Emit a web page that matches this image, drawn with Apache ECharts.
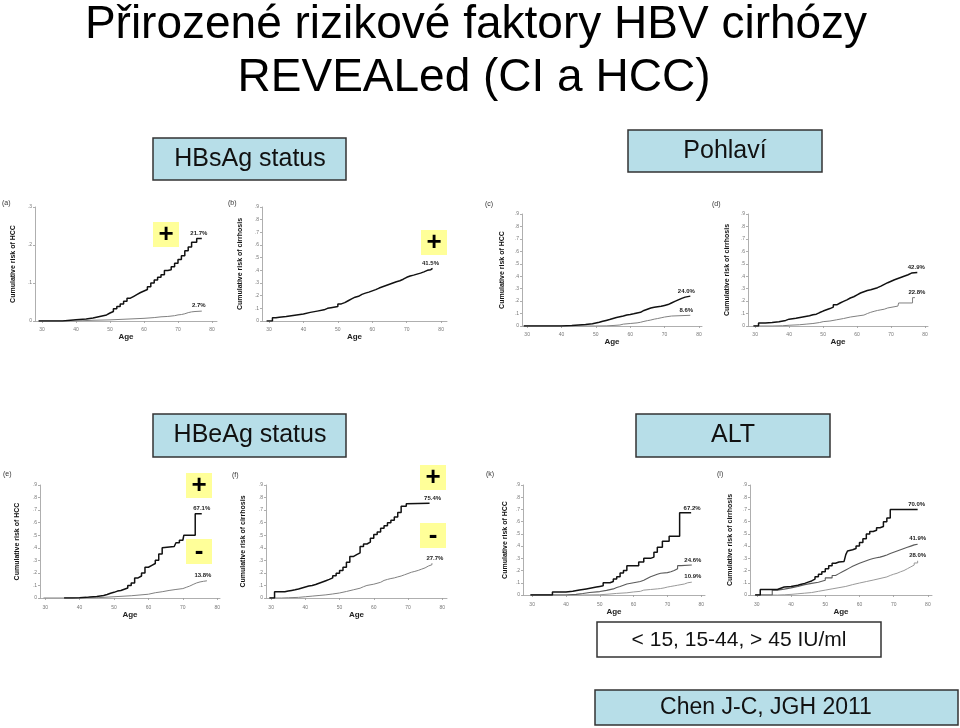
<!DOCTYPE html>
<html><head><meta charset="utf-8">
<script src="https://cdn.jsdelivr.net/npm/echarts@6.0.0/dist/echarts.min.js"></script>
<style>html,body{margin:0;padding:0;background:#fff}#c{width:960px;height:728px}</style>
</head><body><div id="c"></div>
<script>
// ---------- DATA ----------
const xTickValues = [30, 40, 50, 60, 70, 80];
const xTickLabels = ['30', '40', '50', '60', '70', '80'];
const yTickLabels = ['0', '.1', '.2', '.3', '.4', '.5', '.6', '.7', '.8', '.9'];
const panelLetters = ['(a)', '(b)', '(c)', '(d)', '(e)', '(f)', '(k)', '(l)'];
const yAxisNames = ['Cumulative risk of HCC', 'Cumulative risk of cirrhosis', 'Cumulative risk of HCC', 'Cumulative risk of cirrhosis',
  'Cumulative risk of HCC', 'Cumulative risk of cirrhosis', 'Cumulative risk of HCC', 'Cumulative risk of cirrhosis'];
const yMaxValues = [0.3, 0.9, 0.9, 0.9, 0.9, 0.9, 0.9, 0.9];

// (a) HBsAg -> HCC
const aPos = [[29,0],[36,0.003],[40,0.005],[43,0.008],[45,0.012],[47,0.016],[49,0.021],[50,0.025],[51,0.032],[52,0.038],[53,0.045],[54,0.052],[55,0.06],[56,0.065],[57,0.07],[58,0.075],[59,0.079],[60,0.083],[61,0.09],[62,0.1],[63,0.108],[64,0.115],[65,0.122],[66,0.133],[67,0.135],[68,0.143],[69,0.152],[70,0.162],[71,0.172],[72,0.185],[73,0.195],[74,0.207],[75.5,0.217],[77,0.217]];
const aNeg = [[29,0],[40,0.002],[45,0.003],[50,0.005],[55,0.007],[60,0.009],[63,0.011],[65,0.012],[67,0.014],[69,0.016],[70,0.017],[71,0.019],[72,0.022],[73,0.024],[74,0.025],[75,0.026],[77,0.027]];
// (b) HBsAg -> cirrhosis
const bPos = [[29.3,0],[31,0.025],[32,0.03],[33,0.035],[35,0.04],[36,0.048],[38,0.055],[40,0.068],[42,0.078],[44,0.088],[46,0.1],[47,0.105],[48,0.115],[50,0.135],[51,0.145],[52,0.16],[53,0.175],[54,0.188],[55,0.195],[56,0.21],[57,0.22],[58,0.228],[59,0.238],[60,0.248],[61,0.26],[62,0.27],[63,0.28],[64,0.29],[65,0.3],[66,0.31],[67,0.318],[68,0.33],[69,0.345],[70,0.355],[71,0.362],[72,0.37],[73,0.378],[74,0.388],[75,0.4],[76,0.405],[77,0.415],[77.5,0.415]];
// (c) sex -> HCC
const cMale = [[29,0],[35,0.001],[40,0.004],[43,0.008],[45,0.012],[47,0.018],[49,0.024],[50,0.03],[51,0.038],[52,0.045],[53,0.052],[54,0.06],[55,0.068],[56,0.074],[57,0.08],[58,0.088],[59,0.092],[60,0.098],[61,0.105],[62,0.11],[63,0.125],[64,0.135],[65,0.145],[66,0.15],[67,0.155],[68,0.158],[69,0.165],[70,0.172],[71,0.185],[72,0.198],[73,0.21],[74,0.222],[75,0.232],[76,0.24],[77.5,0.24]];
const cFemale = [[29,0],[50,0.001],[53,0.004],[55,0.008],[57,0.015],[58,0.02],[60,0.025],[62,0.03],[63,0.037],[64,0.043],[65,0.048],[66,0.055],[67,0.06],[68,0.066],[69,0.072],[70,0.076],[71,0.08],[72,0.086],[77.5,0.086]];
// (d) sex -> cirrhosis
const dMale = [[29.5,0],[31,0.025],[33,0.028],[35,0.035],[37,0.045],[39,0.055],[40,0.062],[42,0.072],[44,0.082],[46,0.09],[47,0.095],[48,0.108],[49,0.12],[50,0.13],[51,0.14],[52,0.152],[53,0.17],[54,0.185],[55,0.198],[56,0.21],[57,0.225],[58,0.235],[59,0.25],[60,0.265],[61,0.275],[62,0.285],[63,0.292],[64,0.3],[65,0.308],[66,0.32],[67,0.335],[68,0.348],[69,0.36],[70,0.372],[71,0.382],[72,0.392],[73,0.402],[74,0.412],[75,0.425],[76,0.429],[77.7,0.429]];
const dFemale = [[29.5,0],[35,0.002],[38,0.006],[40,0.01],[43,0.015],[45,0.02],[47,0.028],[49,0.035],[50,0.04],[52,0.05],[54,0.06],[56,0.072],[58,0.08],[60,0.088],[62,0.1],[63,0.11],[64,0.118],[65,0.125],[66,0.13],[67,0.135],[68,0.145],[69,0.16],[72,0.165],[72.2,0.185],[76.3,0.228],[77,0.228]];
// (e) HBeAg -> HCC
const ePos = [[35.5,0],[38,0.002],[40,0.005],[42,0.008],[43,0.012],[45,0.016],[46,0.02],[47,0.028],[48,0.038],[49,0.045],[50,0.055],[51,0.06],[52,0.07],[53,0.08],[54,0.1],[55,0.12],[56,0.16],[57,0.175],[58,0.2],[59,0.245],[60,0.26],[61,0.275],[62,0.3],[63,0.35],[64,0.4],[64.5,0.41],[67.5,0.41],[68,0.44],[69,0.46],[70,0.47],[70.3,0.5],[73.6,0.671],[75.5,0.671]];
const eNeg = [[29.5,0],[40,0.002],[45,0.01],[50,0.018],[55,0.03],[60,0.042],[62,0.05],[64,0.06],[66,0.068],[68,0.075],[70,0.085],[71,0.095],[72,0.108],[73,0.12],[74,0.128],[75,0.133],[76,0.137],[77,0.138]];
// (f) HBeAg -> cirrhosis
const fPos = [[29.5,0],[31,0.05],[33,0.05],[34,0.055],[35,0.06],[36,0.065],[37,0.072],[38,0.08],[39,0.088],[40,0.095],[41,0.1],[42,0.108],[43,0.118],[44,0.128],[45,0.138],[46,0.148],[47,0.16],[48,0.178],[49,0.198],[50,0.22],[51,0.245],[52,0.285],[53,0.33],[54,0.345],[55,0.36],[56,0.41],[57,0.43],[58,0.445],[59,0.475],[60,0.505],[61,0.525],[62,0.555],[63,0.575],[64,0.6],[65,0.62],[66,0.645],[67,0.68],[68,0.73],[69.5,0.75],[70,0.754],[76.3,0.754]];
const fNeg = [[29.5,0],[33,0.002],[35,0.005],[38,0.01],[40,0.015],[42,0.02],[44,0.025],[46,0.032],[48,0.04],[50,0.052],[52,0.065],[54,0.078],[56,0.09],[57,0.1],[58,0.11],[60,0.125],[62,0.14],[63,0.148],[64,0.155],[65,0.16],[66,0.168],[67,0.175],[68,0.185],[69,0.195],[70,0.205],[71,0.212],[72,0.22],[73,0.23],[74,0.24],[75,0.255],[76,0.265],[77,0.277]];
// (k) ALT -> HCC
const kHigh = [[29.5,0],[36,0.025],[40,0.03],[42,0.04],[44,0.05],[46,0.065],[49,0.07],[50,0.075],[51,0.1],[53,0.11],[54,0.13],[55,0.15],[56,0.18],[57,0.2],[58,0.24],[61.5,0.27],[63,0.3],[65,0.31],[66,0.35],[67,0.39],[68.5,0.44],[70.5,0.48],[73.6,0.672],[77,0.672]];
const kMid = [[29.5,0],[40,0.005],[43,0.012],[45,0.02],[47,0.028],[50,0.038],[52,0.05],[54,0.062],[55,0.07],[56,0.08],[57,0.09],[58,0.1],[60,0.11],[62,0.12],[63,0.135],[64,0.15],[65,0.16],[66,0.17],[67,0.178],[68,0.183],[70,0.19],[71,0.2],[72,0.215],[73,0.24],[74,0.246],[77.2,0.246]];
const kLow = [[29.5,0],[45,0.002],[50,0.008],[53,0.013],[55,0.018],[58,0.025],[60,0.03],[62,0.04],[63,0.045],[65,0.05],[67,0.053],[68,0.058],[69,0.065],[70,0.07],[71,0.075],[72,0.08],[73,0.085],[74,0.09],[75,0.1],[76,0.105],[77.2,0.109]];
// (l) ALT -> cirrhosis
const lHigh = [[29.5,0],[31,0.045],[35,0.045],[36,0.055],[37,0.065],[38,0.07],[40,0.08],[42,0.088],[43,0.095],[44,0.105],[45,0.115],[46,0.13],[47,0.15],[48,0.17],[49,0.19],[50,0.215],[51,0.24],[52,0.26],[53,0.27],[54,0.275],[55.5,0.275],[56,0.33],[56.5,0.36],[57,0.37],[58,0.38],[59,0.4],[60,0.43],[61,0.46],[62,0.5],[63,0.52],[64,0.53],[65,0.55],[66,0.56],[67,0.6],[68,0.63],[69,0.7],[77,0.7]];
const lMid = [[29.5,0],[34.5,0.04],[36,0.048],[38,0.058],[40,0.07],[42,0.085],[44,0.095],[46,0.105],[48,0.12],[50,0.14],[52,0.16],[53,0.175],[54,0.19],[55,0.205],[56,0.22],[57,0.235],[58,0.248],[59,0.26],[60,0.27],[61,0.28],[62,0.29],[63,0.298],[64,0.305],[65,0.31],[66,0.318],[67,0.328],[68,0.34],[69,0.35],[70,0.36],[71,0.37],[72,0.38],[73,0.39],[74,0.4],[75,0.41],[76,0.415],[77,0.419]];
const lLow = [[29.5,0],[36,0.002],[38,0.005],[40,0.01],[42,0.015],[44,0.02],[46,0.03],[48,0.04],[50,0.05],[52,0.06],[54,0.07],[56,0.085],[58,0.098],[60,0.11],[62,0.122],[64,0.135],[66,0.148],[68,0.16],[69,0.17],[70,0.178],[71,0.19],[72,0.2],[73,0.215],[74,0.23],[75,0.245],[76,0.262],[77,0.28]];

const panelSeries = [[aNeg, aPos], [bPos], [cFemale, cMale], [dFemale, dMale], [eNeg, ePos], [fNeg, fPos], [kLow, kMid, kHigh], [lLow, lMid, lHigh]];
const endLabels = [['2.7%', '21.7%'], ['41.5%'], ['8.6%', '24.0%'], ['22.8%', '42.9%'], ['13.8%', '67.1%'], ['27.7%', '75.4%'], ['10.9%', '24.6%', '67.2%'], ['28.0%', '41.9%', '70.0%']];

// ---------- LAYOUT / STYLE ----------
const FONT = '"Liberation Sans", Arial, sans-serif';
const layout = [
  {left: 35,  top: 207, w: 182, h: 114, xmin: 27.94, xmax: 81.47, off: 4, yGap: 18.5, ageGap: 8, letter: [2, 200]},
  {left: 262, top: 207, w: 185, h: 114, xmin: 27.97, xmax: 81.7,  off: 4, yGap: 18.5, ageGap: 8, letter: [228, 200]},
  {left: 522, top: 214, w: 180, h: 112, xmin: 28.5,  xmax: 80.9,  off: 4, yGap: 16.5, ageGap: 7, letter: [485, 201]},
  {left: 748, top: 214, w: 180, h: 112, xmin: 27.9,  xmax: 80.85, off: 4, yGap: 17.5, ageGap: 7, letter: [712, 201]},
  {left: 40,  top: 485, w: 180, h: 113, xmin: 28.5,  xmax: 80.8,  off: 5, yGap: 19.5, ageGap: 6, letter: [3, 471]},
  {left: 266, top: 485, w: 181, h: 113, xmin: 28.5,  xmax: 81.4,  off: 5, yGap: 19.5, ageGap: 6, letter: [232, 472]},
  {left: 523, top: 485, w: 182, h: 110, xmin: 27.3,  xmax: 81.1,  off: 5, yGap: 14.5, ageGap: 4, letter: [486, 471]},
  {left: 750, top: 485, w: 182, h: 110, xmin: 28,    xmax: 81.2,  off: 5, yGap: 16.5, ageGap: 4, letter: [717, 471]}
];
const twoColors = [{c: '#808080', w: 1}, {c: '#111', w: 1.5}];
const threeColors = [{c: '#999', w: 1}, {c: '#5a5a5a', w: 1.1}, {c: '#111', w: 1.5}];
const labelDx = [[-3, -3], [-2], [-4, -4], [2, -1], [-4, 0], [3, 3], [1, 1, 1], [0, 0, -1]];

const grids = [], xAxes = [], yAxes = [], series = [];
layout.forEach((p, i) => {
  grids.push({left: p.left, top: p.top, width: p.w, height: p.h, containLabel: false});
  xAxes.push({
    gridIndex: i, type: 'value', min: p.xmin, max: p.xmax, offset: p.off,
    axisLine: {show: true, lineStyle: {color: '#9a9a9a', width: 0.8}},
    axisTick: {show: true, customValues: xTickValues, length: 2, lineStyle: {color: '#9a9a9a', width: 0.8}},
    axisLabel: {customValues: xTickValues, formatter: v => xTickLabels[xTickValues.indexOf(v)], fontSize: 5, color: '#777', margin: 2, fontFamily: FONT},
    splitLine: {show: false},
    name: 'Age', nameLocation: 'middle', nameGap: p.ageGap,
    nameTextStyle: {fontSize: 8, fontWeight: 'bold', color: '#222', fontFamily: FONT}
  });
  yAxes.push({
    gridIndex: i, type: 'value', min: 0, max: yMaxValues[i], interval: 0.1,
    axisLine: {show: true, lineStyle: {color: '#9a9a9a', width: 0.8}},
    axisTick: {show: true, length: 2, lineStyle: {color: '#9a9a9a', width: 0.8}},
    axisLabel: {formatter: v => yTickLabels[Math.round(v * 10)], fontSize: 5, color: '#777', margin: 3, fontFamily: FONT},
    splitLine: {show: false},
    name: yAxisNames[i], nameLocation: 'middle', nameRotate: 90, nameGap: p.yGap,
    nameTextStyle: {fontSize: 7, fontWeight: 'bold', color: '#111', fontFamily: FONT}
  });
  const list = panelSeries[i];
  const pal = list.length === 3 ? threeColors : (list.length === 1 ? [twoColors[1]] : twoColors);
  list.forEach((d, j) => {
    const last = d[d.length - 1];
    series.push({
      type: 'line', xAxisIndex: i, yAxisIndex: i, data: d, step: 'end',
      symbol: 'none', showSymbol: false, animation: false, silent: true,
      lineStyle: {color: pal[j].c, width: pal[j].w},
      markPoint: {
        symbol: 'circle', symbolSize: 0, animation: false, silent: true,
        data: [{coord: last, value: endLabels[i][j]}],
        label: {show: true, position: 'top', distance: 2, offset: [labelDx[i][j], 0],
          formatter: endLabels[i][j], fontSize: 6, fontWeight: 'bold', color: '#222', fontFamily: FONT}
      }
    });
  });
});

function box(x, y, w, h, fill, txt, size, tx, ty) {
  return {type: 'group', children: [
    {type: 'rect', shape: {x: x, y: y, width: w, height: h}, style: {fill: fill, stroke: '#333', lineWidth: 1.5}},
    {type: 'text', x: tx, y: ty, style: {text: txt, fontSize: size, fontFamily: FONT, fill: '#111', align: 'center', verticalAlign: 'middle'}}
  ]};
}
function sign(x, y, ch) {
  return {type: 'group', children: [
    {type: 'rect', shape: {x: x, y: y, width: 26, height: 25}, style: {fill: '#ffff99'}},
    {type: 'text', x: x + 13, y: y + 12.5, style: {text: ch, fontSize: 26, fontWeight: 'bold', fontFamily: FONT, fill: '#000', align: 'center', verticalAlign: 'middle'}}
  ]};
}
const BLUE = '#b7dee8';
const graphics = [
  {type: 'text', x: 476, y: 25, style: {text: 'Přirozené rizikové faktory HBV cirhózy', fontSize: 46, fontFamily: FONT, fill: '#000', align: 'center', verticalAlign: 'middle'}},
  {type: 'text', x: 474, y: 78, style: {text: 'REVEALed (CI a HCC)', fontSize: 46, fontFamily: FONT, fill: '#000', align: 'center', verticalAlign: 'middle'}},
  box(153, 138, 193, 42, BLUE, 'HBsAg status', 25, 250, 159),
  box(628, 130, 194, 42, BLUE, 'Pohlaví', 25, 725, 151),
  box(153, 414, 193, 43, BLUE, 'HBeAg status', 25, 250, 435.5),
  box(636, 414, 194, 43, BLUE, 'ALT', 25, 733, 435.5),
  box(597, 622, 284, 35, '#fff', '< 15, 15-44, > 45 IU/ml', 21, 739, 640),
  box(595, 690, 363, 35, BLUE, 'Chen J-C, JGH 2011', 23, 766, 708),
  sign(153, 222, '+'), sign(421, 230, '+'),
  sign(186, 473, '+'), sign(186, 539, '-'),
  sign(420, 465, '+'), sign(420, 523, '-')
];
layout.forEach((p, i) => {
  graphics.push({type: 'text', x: p.letter[0], y: p.letter[1], style: {text: panelLetters[i], fontSize: 7, fontFamily: FONT, fill: '#333'}});
});

const chart = echarts.init(document.getElementById('c'), null, {renderer: 'canvas'});
chart.setOption({
  animation: false,
  backgroundColor: '#fff',
  grid: grids, xAxis: xAxes, yAxis: yAxes, series: series,
  graphic: graphics
});
</script></body></html>
